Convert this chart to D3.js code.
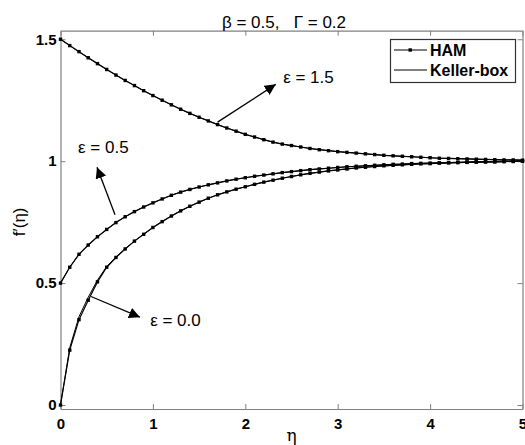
<!DOCTYPE html>
<html><head><meta charset="utf-8">
<script src="https://cdn.jsdelivr.net/npm/d3@7"></script>
<style>body{margin:0;background:#fff}svg{display:block}text{font-family:Arial,"Liberation Sans",sans-serif}</style>
</head><body><svg id="c" width="525" height="445"></svg>
<script>
const eta = d3.range(0, 51).map(i => i / 10);
const xTicks = [0, 1, 2, 3, 4, 5];
const yTicks = [0, 0.5, 1, 1.5];
const yTickLabels = ["0", "0.5", "1", "1.5"];
const eps15 = [1.5,1.474,1.449,1.424,1.4,1.376,1.353,1.331,1.31,1.289,1.269,1.25,1.231,1.213,1.196,1.18,1.165,1.15,1.136,1.123,1.11,1.099,1.088,1.078,1.07,1.064,1.058,1.052,1.047,1.043,1.039,1.036,1.033,1.03,1.027,1.024,1.022,1.02,1.018,1.016,1.014,1.012,1.011,1.01,1.009,1.008,1.007,1.006,1.005,1.005,1.004];
const eps05 = [0.5,0.565,0.618,0.656,0.69,0.72,0.748,0.772,0.793,0.812,0.829,0.845,0.86,0.873,0.884,0.894,0.903,0.911,0.919,0.926,0.932,0.938,0.943,0.948,0.953,0.957,0.961,0.965,0.968,0.971,0.974,0.977,0.979,0.981,0.983,0.985,0.987,0.988,0.99,0.991,0.992,0.993,0.994,0.995,0.996,0.997,0.997,0.998,0.999,0.999,1.0];
const eps00 = [0,0.225,0.35,0.43,0.505,0.565,0.605,0.64,0.672,0.7,0.728,0.752,0.775,0.796,0.815,0.832,0.848,0.862,0.874,0.885,0.895,0.905,0.914,0.922,0.93,0.937,0.944,0.95,0.955,0.96,0.964,0.968,0.972,0.975,0.978,0.981,0.983,0.985,0.987,0.989,0.99,0.992,0.993,0.994,0.995,0.996,0.997,0.997,0.998,0.999,1.0];
const eps00KB = [0,0.235,0.362,0.442,0.512,0.568,0.607,0.641,0.672,0.7,0.728,0.752,0.775,0.796,0.815,0.832,0.848,0.862,0.874,0.885,0.895,0.905,0.914,0.922,0.93,0.937,0.944,0.95,0.955,0.96,0.964,0.968,0.972,0.975,0.978,0.981,0.983,0.985,0.987,0.989,0.99,0.992,0.993,0.994,0.995,0.996,0.997,0.997,0.998,0.999,1.0];
const hamSeries = [eps15, eps05, eps00];
const kbSeries = [eps15, eps05, eps00KB];
const legendLabels = ["HAM", "Keller-box"];
const titleText = "β = 0.5,   Γ = 0.2";
// annotations: [text, tail eta, tail f', head eta, head f', text eta, text f']
const annotations = [
  ["ε = 1.5", 1.70, 1.16, 2.33, 1.315, 2.41, 1.32],
  ["ε = 0.5", 0.59, 0.78, 0.395, 0.975, 0.19, 1.035],
  ["ε = 0.0", 0.33, 0.445, 0.86, 0.36, 0.97, 0.325]
];

const svg = d3.select("#c");
const x = d3.scaleLinear().domain([0, 5]).range([60.5, 522.5]);
const y = d3.scaleLinear().domain([-0.0164, 1.535]).range([409, 30.7]);
const X0 = x.range()[0], X1 = x.range()[1], Y0 = y.range()[0], Y1 = y.range()[1];
const axisColor = "#808080";

// axes
const gB = svg.append("g").attr("transform", `translate(0,${Y0})`)
  .call(d3.axisBottom(x).tickValues(xTicks).tickSizeInner(-5).tickSizeOuter(0).tickPadding(9).tickFormat(d3.format("d")));
const gT = svg.append("g").attr("transform", `translate(0,${Y1})`)
  .call(d3.axisTop(x).tickValues(xTicks).tickSizeInner(-5).tickSizeOuter(0).tickFormat(""));
const gL = svg.append("g").attr("transform", `translate(${X0},0)`)
  .call(d3.axisLeft(y).tickValues(yTicks).tickSizeInner(-5).tickSizeOuter(0).tickPadding(4).tickFormat((d, i) => yTickLabels[i]));
const gR = svg.append("g").attr("transform", `translate(${X1},0)`)
  .call(d3.axisRight(y).tickValues(yTicks).tickSizeInner(-5).tickSizeOuter(0).tickFormat(""));
[gB, gT, gL, gR].forEach(g => {
  g.select(".domain").attr("stroke", axisColor).attr("stroke-width", 1.2);
  g.selectAll(".tick line").attr("stroke", axisColor);
  g.selectAll(".tick text").attr("fill", "#000").style("font-size", "15px").style("font-weight", "bold");
});

const line = d3.line().x((d, i) => x(eta[i])).y(d => y(d));

// Keller-box lines
kbSeries.forEach(s => svg.append("path").datum(s).attr("d", line)
  .attr("fill", "none").attr("stroke", "#000").attr("stroke-width", 1));
// HAM lines with markers
hamSeries.forEach(s => {
  svg.append("path").datum(s).attr("d", line)
    .attr("fill", "none").attr("stroke", "#000").attr("stroke-width", 1.2);
  svg.append("g").selectAll("rect").data(s).join("rect")
    .attr("x", (d, i) => x(eta[i]) - 1.7).attr("y", d => y(d) - 1.7)
    .attr("width", 3.4).attr("height", 3.4).attr("fill", "#000");
});

// arrows
svg.append("defs").append("marker").attr("id", "ah")
  .attr("viewBox", "0 0 10 10").attr("refX", 10).attr("refY", 5)
  .attr("markerWidth", 11).attr("markerHeight", 11).attr("markerUnits", "userSpaceOnUse")
  .attr("orient", "auto")
  .append("path").attr("d", "M0,0 L10,5 L0,10 Z").attr("fill", "#000");
annotations.forEach(a => {
  svg.append("line").attr("x1", x(a[1])).attr("y1", y(a[2])).attr("x2", x(a[3])).attr("y2", y(a[4]))
    .attr("stroke", "#000").attr("stroke-width", 1.3).attr("marker-end", "url(#ah)");
  svg.append("text").attr("x", x(a[5])).attr("y", y(a[6])).text(a[0])
    .style("font-size", "17px").attr("fill", "#000");
});

// title & labels
svg.append("text").attr("x", 284).attr("y", 28).attr("text-anchor", "middle")
  .style("font-size", "17px").text(titleText).attr("xml:space", "preserve").style("white-space", "pre");
svg.append("text").attr("x", (X0 + X1) / 2).attr("y", 441).attr("text-anchor", "middle")
  .style("font-size", "17px").style("font-family", "'DejaVu Serif',serif").text("η");
svg.append("text").attr("transform", `translate(25,${(Y0 + Y1) / 2 + 2}) rotate(-90)`).attr("text-anchor", "middle")
  .style("font-size", "17px").text("f′(η)");

// legend
const lg = svg.append("g");
lg.append("rect").attr("x", 390.5).attr("y", 39.5).attr("width", 125).attr("height", 43)
  .attr("fill", "#fff").attr("stroke", "#333").attr("stroke-width", 1.2);
legendLabels.forEach((lab, i) => {
  const ly = 50 + i * 20;
  lg.append("line").attr("x1", 394).attr("x2", 427).attr("y1", ly).attr("y2", ly).attr("stroke", "#000").attr("stroke-width", 1.2);
  if (i === 0) lg.append("rect").attr("x", 408.5).attr("y", ly - 1.7).attr("width", 3.4).attr("height", 3.4).attr("fill", "#000");
  lg.append("text").attr("x", 430).attr("y", ly + 6).text(lab)
    .style("font-size", "16px").style("font-weight", "bold");
});
</script></body></html>
